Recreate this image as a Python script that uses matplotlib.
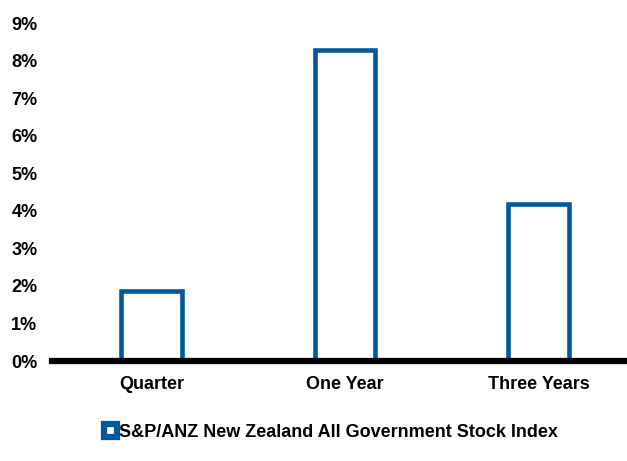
import matplotlib.pyplot as plt
import numpy as np

plt.rcParams['font.family'] = ['Liberation Sans', 'DejaVu Sans']
plt.rcParams['font.weight'] = 'bold'

categories = ['Quarter', 'One Year', 'Three Years']
returns = [1.87, 8.27, 4.18]
series_name = 'S&P/ANZ New Zealand All Government Stock Index'
blue = '#00599C'

fig = plt.figure(figsize=(6.27, 4.61), dpi=100)
ax = fig.add_axes([52 / 627, 1 - 361 / 461, (627 - 52) / 627, (361 - 23) / 461])

x = np.arange(len(categories))
ax.bar(x, returns, width=0.315, facecolor='white', edgecolor=blue,
       linewidth=3.3, label=series_name, zorder=2)

ax.set_xlim(-0.514, 2.457)
ax.set_ylim(0, 9)
ax.set_yticks(range(0, 10))
ax.set_yticklabels([f'{v}%' for v in range(0, 10)], fontsize=13, fontweight='bold')
ax.set_xticks(x)
ax.set_xticklabels(categories, fontsize=13, fontweight='bold')
ax.tick_params(axis='y', length=0, pad=10.5)
ax.tick_params(axis='x', length=0, pad=11)

for side in ['top', 'right', 'left']:
    ax.spines[side].set_visible(False)
ax.spines['bottom'].set_linewidth(4.5)
ax.spines['bottom'].set_color('black')
ax.spines['bottom'].set_zorder(3)

leg = fig.legend(loc='center', bbox_to_anchor=(331 / 627, 1 - 432 / 461),
                 frameon=False, handlelength=0.75, handleheight=0.75,
                 handletextpad=0.1, prop={'weight': 'bold', 'size': 13})
leg.legend_handles[0].set_linewidth(4.5)

plt.savefig('out.png', dpi=100)
